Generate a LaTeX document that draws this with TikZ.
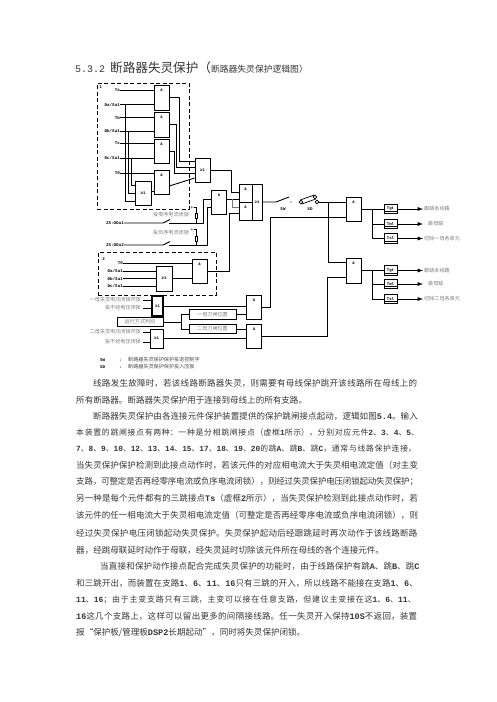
\documentclass[tikz,border=0pt]{standalone}
\usepackage{fontspec}
\usepackage{xcolor}
\setmainfont{Noto Sans CJK SC}
\newfontfamily\monofont{Liberation Mono}[BoldFont={Liberation Mono Bold}]
\definecolor{bodygray}{RGB}{55,55,55}
\definecolor{labelgray}{RGB}{125,125,125}
\definecolor{branchgray}{RGB}{120,120,120}
\XeTeXlinebreaklocale "zh"
\XeTeXlinebreakskip=0pt plus 5pt minus .5pt
\tolerance=10000
\hbadness=10000
\hfuzz=20pt
\newcommand{\tn}[1]{{\monofont\bfseries #1}}
\newcommand{\pc}{\char"FF0C }
\newcommand{\pl}{\char"FF08 }
\newcommand{\pr}{\char"FF09 }
\newcommand{\ps}{\char"FF1B }
\newcommand{\pk}{\char"FF1A }
\tikzset{
  wire/.style={line width=.9pt},
  andgate/.style={draw, line width=.9pt, inner xsep=0pt, inner ysep=2pt, text height=4pt, text depth=#1, minimum width=15pt, font=\monofont\bfseries\fontsize{4}{4}\selectfont},
  andgate/.default=16pt,
  orgate/.style={draw, line width=.9pt, inner sep=0pt, minimum width=15pt, minimum height=24pt, font=\monofont\bfseries\fontsize{4}{4}\selectfont},
  sigtext/.style={inner sep=0pt, anchor=east, font=\monofont\bfseries\fontsize{4.2}{4.2}\selectfont},
  graytext/.style={inner sep=0pt, text=labelgray, font=\fontsize{5.1}{5.1}\selectfont},
  frame/.style={draw, line width=.9pt, dash pattern=on 4pt off 2.5pt},
  fuse/.style={draw, line width=.8pt, inner sep=0pt, minimum width=2.5pt, minimum height=5pt},
  pole/.style={draw, line width=.7pt, circle, inner sep=0pt, minimum size=3.6pt},
  timer/.style={draw, line width=.9pt, inner sep=0pt, minimum width=13pt, minimum height=9.5pt, font=\monofont\bfseries\fontsize{4}{4}\selectfont,
    path picture={\draw[line width=.6pt] ([yshift=2pt]path picture bounding box.south west) -- ([yshift=2pt]path picture bounding box.south east);}},
  namedbox/.style={draw, line width=.9pt, inner sep=0pt, minimum height=9.5pt, text=labelgray, font=\fontsize{5.1}{5.1}\selectfont},
  bodyline/.style={anchor=west, inner sep=0pt, text=bodygray, text width=342pt, font=\fontsize{8.5}{9}\selectfont,
    execute at begin node={\parindent=0pt\parfillskip=0pt}},
  bodylast/.style={anchor=west, inner sep=0pt, text=bodygray, font=\fontsize{8.55}{9}\selectfont}
}
\begin{document}
\begin{tikzpicture}[x=1pt, y=-1pt]
\useasboundingbox (0,0) rectangle (496,702);
\fill[white] (0,0) rectangle (496,702);
% heading
\node[anchor=west, inner sep=0pt, text=bodygray] (title) at (75,68) {{\monofont\fontsize{10}{10}\selectfont 5.3.2}\hspace{5pt}\fontsize{12.6}{13}\selectfont 断路器失灵保护\pl\fontsize{8.8}{9}\selectfont 断路器失灵保护逻辑图\pr};
% frame 1
\node[frame, minimum width=92pt, minimum height=126pt] (frameA) at (143,146) {};
\node[sigtext] (numA) at (102,87) {1};
\node[sigtext] (sigTa) at (120,90.5) {Ta};
\node[sigtext] (sigDa) at (120,104.5) {Da/Sa1};
\node[sigtext] (sigTb) at (120,117.5) {Tb};
\node[sigtext] (sigDb) at (120,131) {Db/Sa1};
\node[sigtext] (sigTc) at (120,143.5) {Tc};
\node[sigtext] (sigDc) at (120,158) {Dc/Sa1};
\node[sigtext] (sigTo) at (120,173) {T0};
\node[andgate=17pt] (andA) at (161.5,97.5) {\&};
\node[andgate=17pt] (andB) at (161.5,124.5) {\&};
\node[andgate] (andC) at (161.5,151) {\&};
\node[andgate] (andD) at (161.5,182) {\&};
\node[orgate, minimum width=16pt] (orT) at (143,193) {≥1};
\node[orgate] (orU) at (202.5,170) {≥1};
\foreach \sig/\gate in {sigTa/andA, sigDa/andA, sigTb/andB, sigDb/andB, sigTc/andC, sigDc/andC, sigTo/andD}
  \draw[wire] (\sig.east) -- (\gate.west |- \sig.east);
\coordinate (busA) at (125.5,104.5);
\coordinate (busB) at (128.5,131);
\coordinate (busC) at (131.5,158);
\draw[wire] (busA) |- ([yshift=-8pt]orT.west);
\draw[wire] (busB) |- (orT.west);
\draw[wire] (busC) |- ([yshift=8pt]orT.west);
\draw[wire] ([yshift=2pt]orT.east) -- ([yshift=-9pt]andD.west);
\draw[wire] (andA.east) -| ([xshift=-15pt,yshift=9pt]orU.west) -- ([yshift=9pt]orU.west);
\draw[wire] (andB.east) -| ([xshift=-18pt,yshift=3pt]orU.west) -- ([yshift=3pt]orU.west);
\draw[wire] (andC.east) -| ([xshift=-20pt,yshift=-3pt]orU.west) -- ([yshift=-3pt]orU.west);
\draw[wire] ([yshift=-4pt]andD.east) -- ([yshift=-8pt]orU.west);
% middle gates
\node[andgate] (andE) at (219,202) {\&};
\node[andgate=10pt, minimum width=13pt] (andF) at (245.5,193) {\&};
\node[andgate=10pt, minimum width=13pt] (andG) at (245.5,211) {\&};
\node[orgate, minimum width=10pt, minimum height=36pt] (orV) at (257,202) {≥1};
\draw[wire] (orU.east) -| ([xshift=-7pt,yshift=1pt]andF.west) -- ([yshift=1pt]andF.west);
\draw[wire] ([yshift=3pt]andE.east) -- ([yshift=-6pt]andF.west);
\draw[line width=.8pt, branchgray] ([xshift=5pt,yshift=3pt]andE.east) |- ([yshift=4pt]andG.west);
% zero and negative sequence contacts
\node[graytext] (zeroTxt) at (171,215) {投零序电流闭锁};
\node[graytext] (negTxt) at (171,233) {投负序电流闭锁};
\node[sigtext] (zsA) at (124,223) {ZS:OOa1};
\node[sigtext] (zsB) at (124,245) {ZS:OOa2};
\node[inner sep=0pt, font=\fontsize{5}{5}\selectfont] (plusA) at (192,207.5) {+};
\node[inner sep=0pt, font=\fontsize{5}{5}\selectfont] (plusB) at (192,229.5) {+};
\node[fuse] (fuseA) at (196.5,215.5) {};
\node[fuse] (fuseB) at (196.5,238.5) {};
\coordinate (swAl) at (163,223);
\coordinate (swAr) at (169,223);
\coordinate (swBl) at (163,245);
\coordinate (swBr) at (169,245);
\draw[wire] (zsA.east) -- (swAl) -- ++(7,-3.5);
\draw[wire] (zsB.east) -- (swBl) -- ++(7,-3.5);
\draw[wire] (swAr) -| ([xshift=-7.5pt,yshift=3pt]andE.west) -- ([yshift=3pt]andE.west);
\draw[wire] (swBr) -| ([xshift=-4pt,yshift=-5pt]andE.west) -- ([yshift=-5pt]andE.west);
\draw[wire] (plusA.east) -| (fuseA.north);
\draw[wire] (plusB.east) -| (fuseB.north);
\draw[wire] (fuseA.south) -- (fuseA.south |- swAr);
\draw[wire] (fuseB.south) -- (fuseB.south |- swBr);
% frame 2
\node[frame, minimum width=118pt, minimum height=43pt] (frameB) at (157,273.5) {};
\node[sigtext] (numB) at (105,259) {2};
\node[sigtext] (sigTz) at (123,263) {T0};
\node[sigtext] (sigDz) at (123,271) {Da/Sa1};
\node[sigtext] (sigEz) at (123,278.5) {Db/Sa1};
\node[sigtext] (sigFz) at (123,286) {Dc/Sa1};
\node[orgate, minimum width=16pt, minimum height=25pt] (orW) at (164,278.5) {≥1};
\node[andgate] (andM) at (199.5,271) {\&};
\draw[wire] (sigTz.east) -- (andM.west |- sigTz.east);
\foreach \sig in {sigDz, sigEz, sigFz}
  \draw[wire] (\sig.east) -- (orW.west |- \sig.east);
\draw[wire] (orW.east) -- (andM.west |- orW.east);
\draw[wire] (andM.east) -| ([xshift=-9pt,yshift=-2pt]andG.west) -- ([yshift=-2pt]andG.west);
% voltage blocking
\node[graytext, anchor=east] (volA) at (141,300) {一母失灵电压闭锁开放};
\node[graytext, anchor=east] (volB) at (141,308) {投不经电压闭锁};
\node[graytext, anchor=east] (volC) at (141,332) {二母失灵电压闭锁开放};
\node[graytext, anchor=east] (volD) at (141,342) {投不经电压闭锁};
\node[orgate, line width=1.2pt, minimum width=11pt, minimum height=20pt] (orX) at (157.5,306) {≥1};
\node[orgate, minimum width=13pt, minimum height=19pt] (orY) at (156.5,338.5) {≥1};
\node[namedbox, minimum width=46pt] (runBox) at (140,322) {运行方式判别};
\node[namedbox, minimum width=47pt] (posA) at (212.5,314.5) {一母刀闸位置};
\node[namedbox, minimum width=47pt] (posB) at (212.5,329) {二母刀闸位置};
\node[andgate] (andK) at (254,307) {\&};
\node[andgate] (andL) at (254,336) {\&};
\foreach \vol/\gate in {volA/orX, volB/orX, volC/orY, volD/orY}
  \draw[wire] ([xshift=2pt]\vol.east) -- (\gate.west |- \vol.east);
\coordinate (runTrunk) at (181,322);
\draw[wire] (runBox.east) -- (runTrunk);
\draw[wire] (runTrunk) |- (posA.west);
\draw[wire] (runTrunk) |- (posB.west);
\draw[wire] (orX.east) -- (andK.west |- orX.east);
\draw[wire] (orY.east) -- (andL.west |- orY.east);
\draw[wire] (posA.east) -- (andK.west |- posA.east);
\draw[wire] (posB.east) -- (andL.west |- posB.east);
% switch and press plate
\coordinate (swL) at (276,202);
\coordinate (swR) at (291,202);
\draw[wire] (orV.east) -- (swL) -- ++(13,-5);
\fill (swR) circle (.7pt);
\node[sigtext, anchor=center] (swTxt) at (283,209.5) {SW};
\node[sigtext, anchor=center] (sdTxt) at (310,209.5) {SD};
\node[pole] (sdL) at (301,202) {};
\node[pole] (sdU) at (315,197) {};
\node[pole] (sdR) at (317,202) {};
\draw[line width=.7pt] (sdL.110) -- (sdU.110);
\draw[line width=.7pt] (sdL.-70) -- (sdU.-70);
% output gates
\node[andgate] (andH) at (353.5,209) {\&};
\node[andgate=17pt] (andJ) at (353.5,270.5) {\&};
\coordinate (trunkS) at (328,202);
\draw[wire] (sdR.east) -- ([yshift=7pt]andH.west);
\draw[wire] (trunkS) |- ([yshift=8.5pt]andJ.west);
\draw[wire] (andK.east) -| ([xshift=-75pt,yshift=-8pt]andH.west) -- ([yshift=-8pt]andH.west);
\draw[wire] (andL.east) -| ([xshift=-18pt,yshift=-6.5pt]andJ.west) -- ([yshift=-6.5pt]andJ.west);
% timers
\foreach \gate/\row/\ya/\yb/\yc in {andH/A/209/224/238.5, andJ/B/270.5/284/299}{
  \node[timer] (tgt\row) at (390.5,\ya) {Tgt};
  \node[timer] (tml\row) at (390.5,\yb) {Tml};
  \node[timer] (tsl\row) at (390.5,\yc) {Tsl};
  \coordinate (branch\row) at (372,\ya);
  \draw[wire] (\gate.east) -- (tgt\row.west);
  \draw[wire] (branch\row) |- (tml\row.west);
  \draw[wire] (branch\row) |- (tsl\row.west);
  \node[graytext, anchor=west] (outA\row) at (424,\ya) {跟跳本线路};
  \node[graytext, anchor=west] (outB\row) at (428,\yb) {跳母联};
  \draw[wire, -latex] (tgt\row.east) -- ([xshift=-1pt]outA\row.west);
  \draw[wire, -latex] (tml\row.east) -- ([xshift=-5pt]outB\row.west);
}
\node[graytext, anchor=west] (outCA) at (424,238.5) {切除一母各单元};
\node[graytext, anchor=west] (outCB) at (424,299) {切除二母各单元};
\draw[wire, -latex] (tslA.east) -- ([xshift=-1pt]outCA.west);
\draw[wire, -latex] (tslB.east) -- ([xshift=-1pt]outCB.west);
% legend
\node[sigtext, anchor=west] (keySw) at (100,360) {SW};
\node[sigtext, anchor=west] (keySd) at (100,367) {SD};
\node[sigtext, anchor=west] (colSw) at (119,360) {:};
\node[sigtext, anchor=west] (colSd) at (119,367) {:};
\node[graytext, anchor=west, text=black!70] (txtSw) at (128,360) {断路器失灵保护保护投退控制字};
\node[graytext, anchor=west, text=black!70] (txtSd) at (128,367) {断路器失灵保护保护投入压板};
% body text
\node[bodyline, text width=325pt] (line1) at (93,383) {线路发生故障时\pc 若该线路断路器失灵\pc 则需要有母线保护跳开该线路所在母线上的};
\node[bodylast] (line2) at (76,400.5) {所有断路器。断路器失灵保护用于连接到母线上的所有支路。};
\node[bodyline, text width=325pt] (line3) at (93,416) {断路器失灵保护由各连接元件保护装置提供的保护跳闸接点起动\pc 逻辑如图\tn{5.4}。输入};
\node[bodyline, text width=345pt, font=\fontsize{7.9}{9}\selectfont] (line4) at (76,432.5) {本装置的跳闸接点有两种\pk 一种是分相跳闸接点\pl 虚框\tn{1}所示\pr\pc 分别对应元件\tn{2}、\tn{3}、\tn{4}、\tn{5}、};
\node[bodyline, font=\fontsize{7.8}{9}\selectfont] (line5) at (76,449) {\tn{7}、\tn{8}、\tn{9}、\tn{10}、\tn{12}、\tn{13}、\tn{14}、\tn{15}、\tn{17}、\tn{18}、\tn{19}、\tn{20}的跳\tn{A}、跳\tn{B}、跳\tn{C}\pc 通常与线路保护连接\pc};
\node[bodyline] (line6) at (76,465.5) {当失灵保护保护检测到此接点动作时\pc 若该元件的对应相电流大于失灵相电流定值\pl 对主变};
\node[bodyline] (line7) at (76,482) {支路\pc 可整定是否再经零序电流或负序电流闭锁\pr\pc 则经过失灵保护电压闭锁起动失灵保护\ps};
\node[bodyline] (line8) at (76,498.5) {另一种是每个元件都有的三跳接点\tn{Ts}\pl 虚框\tn{2}所示\pr\pc 当失灵保护检测到此接点动作时\pc 若};
\node[bodyline] (line9) at (76,515.5) {该元件的任一相电流大于失灵相电流定值\pl 可整定是否再经零序电流或负序电流闭锁\pr\pc 则};
\node[bodyline] (line10) at (76,533) {经过失灵保护电压闭锁起动失灵保护。失灵保护起动后经跟跳延时再次动作于该线路断路};
\node[bodylast] (line11) at (76,550) {器\pc 经跳母联延时动作于母联\pc 经失灵延时切除该元件所在母线的各个连接元件。};
\node[bodyline, text width=320pt] (line12) at (100,566.5) {当直接和保护动作接点配合完成失灵保护的功能时\pc 由于线路保护有跳\tn{A}、跳\tn{B}、跳\tn{C}};
\node[bodyline] (line13) at (76,583) {和三跳开出\pc 而装置在支路\tn{1}、\tn{6}、\tn{11}、\tn{16}只有三跳的开入\pc 所以线路不能接在支路\tn{1}、\tn{6}、};
\node[bodyline, font=\fontsize{8}{9}\selectfont] (line14) at (76,600) {\tn{11}、\tn{16}\ps 由于主变支路只有三跳\pc 主变可以接在任意支路\pc 但建议主变接在这\tn{1}、\tn{6}、\tn{11}、};
\node[bodyline] (line15) at (76,616.5) {\tn{16}这几个支路上\pc 这样可以留出更多的间隔接线路。任一失灵开入保持\tn{10S}不返回\pc 装置};
\node[bodylast] (line16) at (76,633) {报“保护板/管理板\tn{DSP2}长期起动”\pc 同时将失灵保护闭锁。};
\end{tikzpicture}
\end{document}
